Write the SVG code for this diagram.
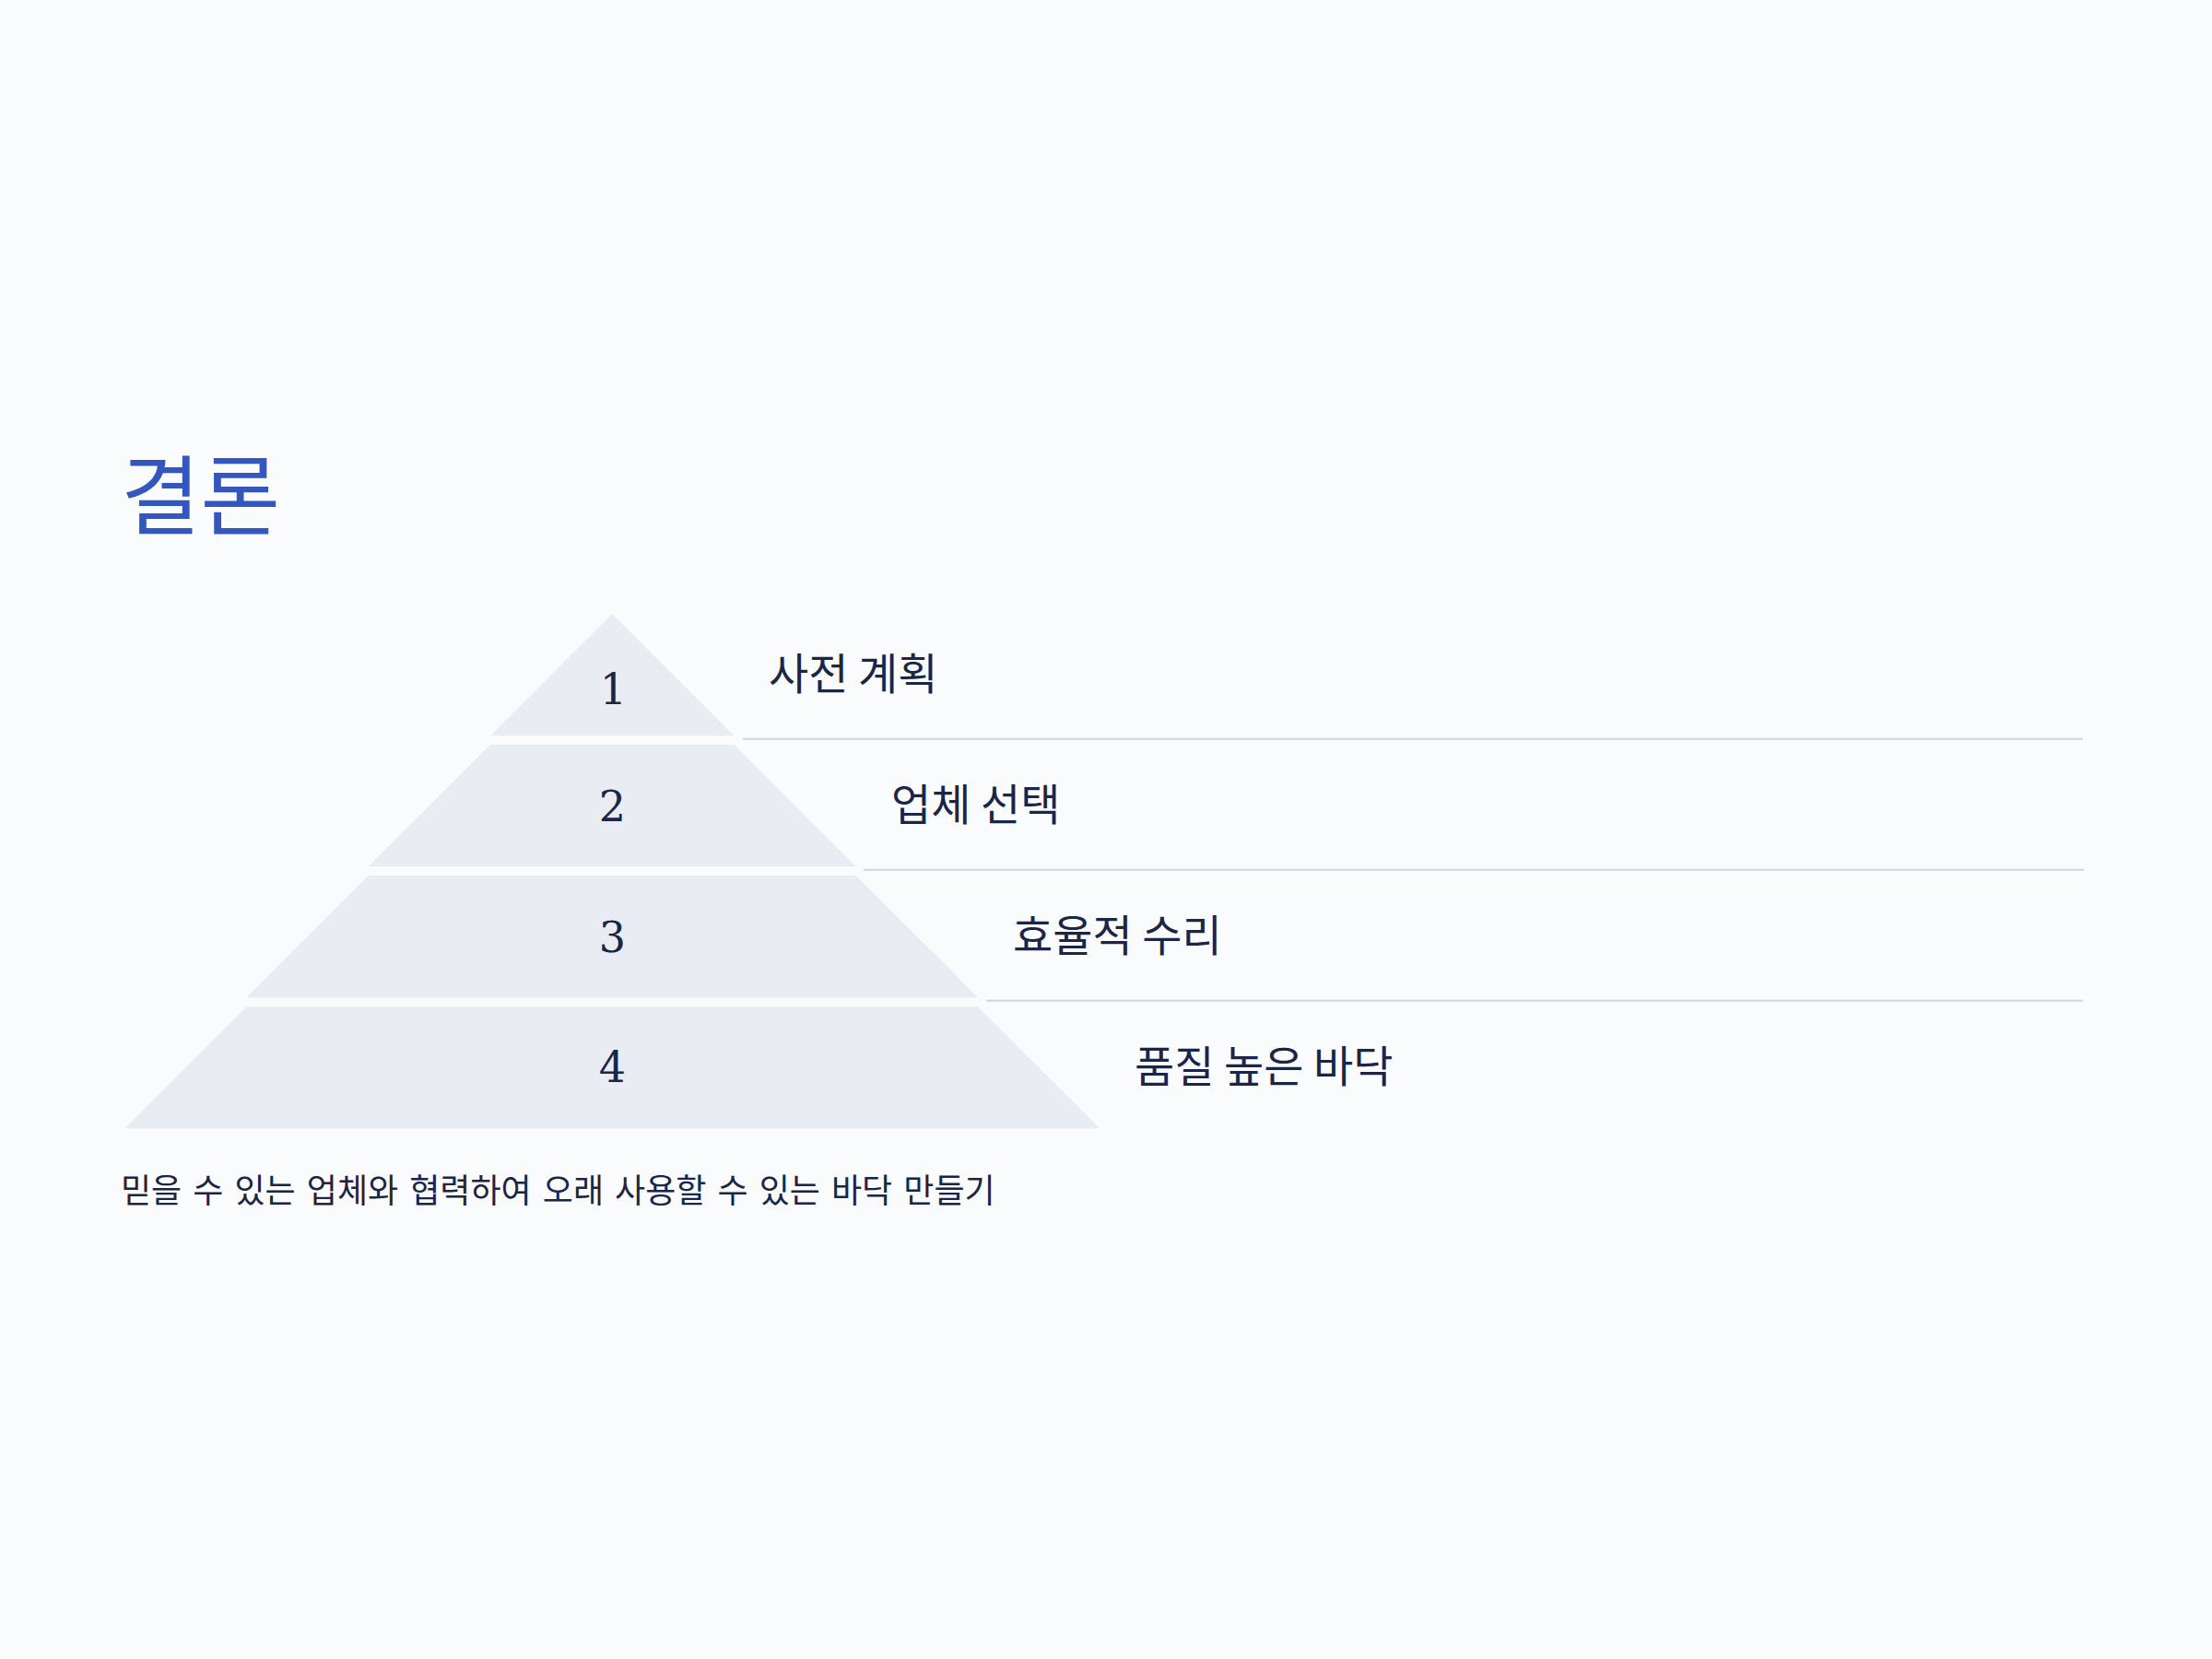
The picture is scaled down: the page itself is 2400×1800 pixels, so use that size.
<svg xmlns="http://www.w3.org/2000/svg" width="2400" height="1800" viewBox="0 0 2400 1800">
<style>
.kr{font-family:"Noto Sans CJK KR","Noto Sans",sans-serif;fill:#1B2545}
.title{font-family:"Noto Sans CJK KR","Noto Sans",sans-serif;fill:#3357BE;font-size:94px}
.label{font-size:47px}
.foot{font-size:36px;word-spacing:4px}
.num{font-family:"DejaVu Serif","Liberation Serif",serif;fill:#1B2545;font-size:46px;text-anchor:middle}
.band{fill:#E9ECF3}
.sep{stroke:#D1D4DC;stroke-width:2;fill:none}
</style>
<rect width="2400" height="1800" fill="#FAFBFD"/>
<text class="title" x="131" y="573">결론</text>
<g id="band1"><polygon class="band" points="664.3,666 796.6,798.3 532,798.3"/><text class="num" x="665.5" y="764">1</text></g>
<g id="band2"><polygon class="band" points="532,808 796.6,808 928.9,940.3 399.7,940.3"/><text class="num" x="664.3" y="890.5">2</text></g>
<g id="band3"><polygon class="band" points="399.7,950 928.9,950 1061.2,1082.3 267.4,1082.3"/><text class="num" x="664.3" y="1032.5">3</text></g>
<g id="band4"><polygon class="band" points="267.4,1092.3 1061.2,1092.3 1193.5,1224.6 135.1,1224.6"/><text class="num" x="664.3" y="1174">4</text></g>
<g id="connectors">
<line class="sep" x1="806" y1="801.7" x2="2260" y2="801.7"/>
<line class="sep" x1="937" y1="943.7" x2="2261" y2="943.7"/>
<line class="sep" x1="1070" y1="1085.7" x2="2260" y2="1085.7"/>
</g>
<g id="label1"><text class="kr label" x="834" y="748">사전 계획</text></g>
<g id="label2"><text class="kr label" x="967" y="890">업체 선택</text></g>
<g id="label3"><text class="kr label" x="1099" y="1032">효율적 수리</text></g>
<g id="label4"><text class="kr label" x="1231" y="1174">품질 높은 바닥</text></g>
<text class="kr foot" x="131" y="1305">믿을 수 있는 업체와 협력하여 오래 사용할 수 있는 바닥 만들기</text>
</svg>
